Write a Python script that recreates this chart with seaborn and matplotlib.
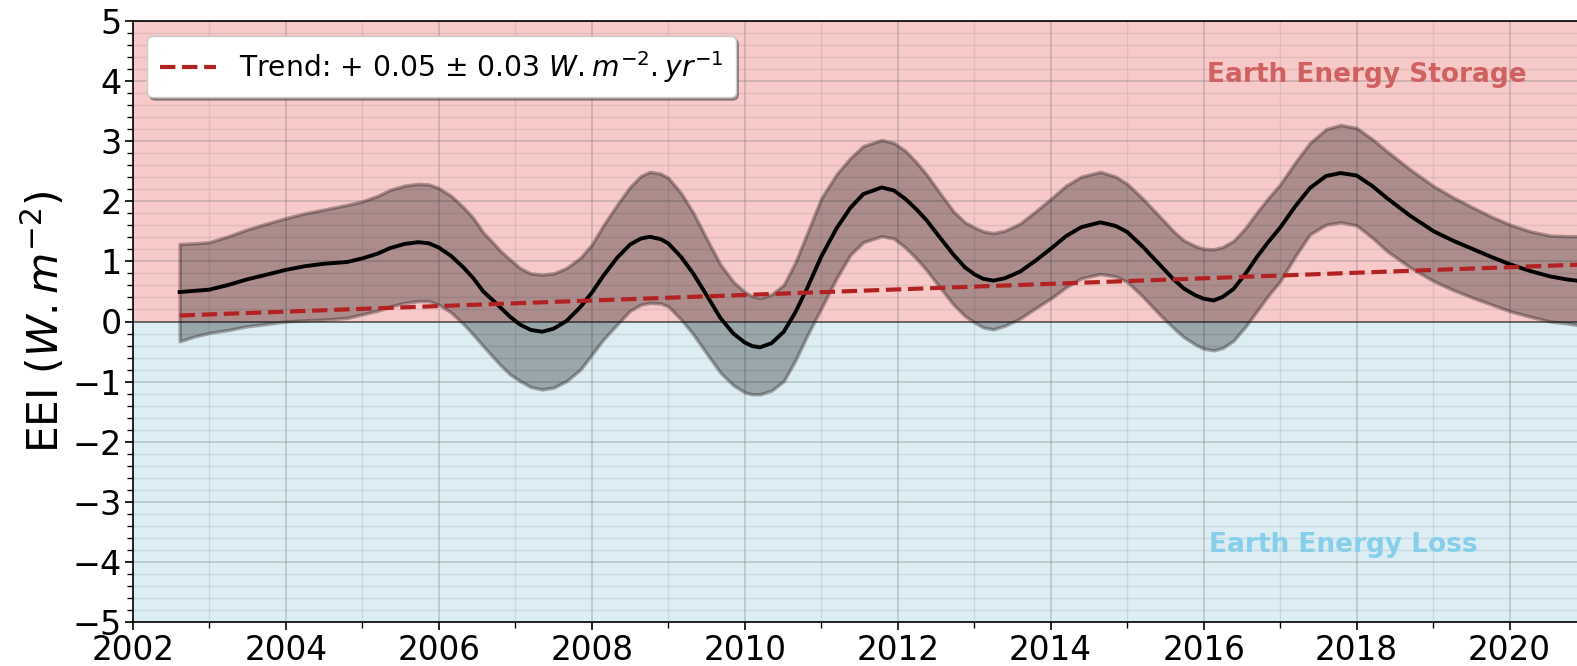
import numpy as np
import pandas as pd
import matplotlib
matplotlib.use("Agg")
import matplotlib.pyplot as plt
from matplotlib.ticker import MultipleLocator
import seaborn as sns

# ---- data ----
years = [2002.61, 2002.8, 2003.0, 2003.25, 2003.49, 2003.75, 2004.0, 2004.25, 2004.49, 2004.8,
         2005.0, 2005.2, 2005.36, 2005.55, 2005.73, 2005.87, 2006.0, 2006.16, 2006.32, 2006.45,
         2006.58, 2006.7, 2006.8, 2006.93, 2007.06, 2007.2, 2007.35, 2007.5, 2007.67, 2007.85,
         2008.0, 2008.15, 2008.33, 2008.5, 2008.64, 2008.76, 2008.9, 2009.0, 2009.17, 2009.33,
         2009.5, 2009.68, 2009.85, 2010.0, 2010.1, 2010.2, 2010.35, 2010.51, 2010.66, 2010.81,
         2011.0, 2011.2, 2011.38, 2011.55, 2011.79, 2011.95, 2012.1, 2012.25, 2012.38, 2012.55,
         2012.73, 2012.88, 2013.01, 2013.12, 2013.25, 2013.4, 2013.6, 2013.8, 2014.02, 2014.2,
         2014.4, 2014.65, 2014.85, 2015.0, 2015.2, 2015.43, 2015.6, 2015.74, 2015.9, 2016.0,
         2016.13, 2016.25, 2016.39, 2016.55, 2016.7, 2016.85, 2017.0, 2017.2, 2017.39, 2017.6,
         2017.79, 2018.0, 2018.2, 2018.4, 2018.7, 2019.01, 2019.27, 2019.53, 2019.77, 2020.01,
         2020.27, 2020.53, 2020.75, 2021.0]
eei = [0.49, 0.51, 0.53, 0.61, 0.70, 0.78, 0.86, 0.92, 0.96, 0.99,
       1.05, 1.13, 1.22, 1.29, 1.32, 1.30, 1.23, 1.09, 0.90, 0.72,
       0.50, 0.36, 0.24, 0.08, -0.05, -0.14, -0.17, -0.12, 0.01, 0.24,
       0.48, 0.76, 1.06, 1.28, 1.38, 1.41, 1.37, 1.30, 1.07, 0.79,
       0.44, 0.06, -0.20, -0.35, -0.41, -0.43, -0.36, -0.17, 0.15, 0.54,
       1.08, 1.55, 1.89, 2.12, 2.23, 2.18, 2.04, 1.86, 1.68, 1.40,
       1.11, 0.90, 0.78, 0.71, 0.68, 0.72, 0.83, 1.01, 1.23, 1.42,
       1.57, 1.65, 1.59, 1.49, 1.25, 0.94, 0.71, 0.55, 0.43, 0.38,
       0.35, 0.41, 0.54, 0.80, 1.08, 1.33, 1.56, 1.92, 2.22, 2.42,
       2.47, 2.43, 2.26, 2.05, 1.76, 1.50, 1.34, 1.20, 1.07, 0.95,
       0.84, 0.75, 0.70, 0.66]
eei_upper = [1.29, 1.30, 1.32, 1.42, 1.53, 1.63, 1.72, 1.80, 1.86, 1.94,
             2.00, 2.09, 2.19, 2.26, 2.29, 2.28, 2.22, 2.09, 1.90, 1.72,
             1.48, 1.32, 1.18, 1.03, 0.89, 0.80, 0.78, 0.80, 0.89, 1.06,
             1.28, 1.60, 1.94, 2.24, 2.42, 2.49, 2.46, 2.39, 2.13, 1.80,
             1.38, 0.95, 0.66, 0.49, 0.42, 0.39, 0.45, 0.61, 0.98, 1.45,
             2.05, 2.45, 2.72, 2.92, 3.02, 2.97, 2.84, 2.64, 2.44, 2.14,
             1.83, 1.65, 1.56, 1.50, 1.47, 1.51, 1.63, 1.83, 2.06, 2.26,
             2.41, 2.49, 2.41, 2.29, 2.05, 1.74, 1.51, 1.35, 1.25, 1.21,
             1.20, 1.24, 1.34, 1.56, 1.82, 2.06, 2.28, 2.65, 2.97, 3.20,
             3.27, 3.22, 3.04, 2.83, 2.53, 2.25, 2.06, 1.89, 1.74, 1.61,
             1.50, 1.43, 1.42, 1.42]
eei_lower = [-0.33, -0.25, -0.19, -0.14, -0.08, -0.04, 0.00, 0.02, 0.03, 0.06,
             0.12, 0.18, 0.25, 0.31, 0.34, 0.34, 0.28, 0.15, -0.04, -0.22,
             -0.41, -0.58, -0.72, -0.88, -0.99, -1.09, -1.13, -1.10, -0.99, -0.80,
             -0.55, -0.30, -0.05, 0.18, 0.28, 0.31, 0.30, 0.25, 0.03, -0.22,
             -0.53, -0.85, -1.06, -1.18, -1.21, -1.21, -1.15, -0.99, -0.65, -0.25,
             0.22, 0.72, 1.11, 1.32, 1.42, 1.38, 1.23, 1.04, 0.85, 0.57,
             0.28, 0.09, -0.02, -0.10, -0.13, -0.07, 0.05, 0.22, 0.40, 0.57,
             0.72, 0.79, 0.75, 0.66, 0.42, 0.11, -0.10, -0.26, -0.39, -0.45,
             -0.48, -0.44, -0.32, -0.08, 0.18, 0.44, 0.67, 1.09, 1.45, 1.61,
             1.65, 1.60, 1.40, 1.17, 0.90, 0.67, 0.52, 0.39, 0.28, 0.17,
             0.08, 0.00, -0.03, -0.08]
trend_years = [2002.61, 2021.0]
trend_values = [0.10, 0.95]

legend_label = r"Trend: + 0.05 $\pm$ 0.03 $W.m^{-2}.yr^{-1}$"
ylabel = r"EEI ($W.m^{-2}$)"
text_storage = "Earth Energy Storage"
text_loss = "Earth Energy Loss"

df = pd.DataFrame({"year": years, "eei": eei})
df_trend = pd.DataFrame({"year": trend_years, "trend": trend_values})

fig = plt.figure(figsize=(15.77, 6.66), dpi=100)
ax = fig.add_axes([133 / 1577, 1 - 622 / 666, (1586 - 133) / 1577, (622 - 21) / 666])

ax.set_xlim(2002, 2021)
ax.set_ylim(-5, 5)

ax.axhspan(0, 5, color="lightcoral", alpha=0.42, lw=0, zorder=0)
ax.axhspan(-5, 0, color="lightblue", alpha=0.42, lw=0, zorder=0)

ax.xaxis.set_major_locator(MultipleLocator(2))
ax.xaxis.set_minor_locator(MultipleLocator(1))
ax.yaxis.set_major_locator(MultipleLocator(1))
ax.yaxis.set_minor_locator(MultipleLocator(0.2))
ax.grid(which="major", color="grey", alpha=0.35, lw=1.3, zorder=1)
ax.grid(which="minor", color="grey", alpha=0.18, lw=1.0, zorder=1)
ax.set_axisbelow(True)

ax.axhline(0, color="black", lw=1.2, alpha=0.55, zorder=2)

ax.fill_between(years, eei_lower, eei_upper, facecolor=(0, 0, 0, 0.3),
                edgecolor=(0.15, 0.1, 0.1, 0.35), lw=2.5, zorder=3)

sns.lineplot(data=df, x="year", y="eei", ax=ax, color="black", lw=2.8,
             sort=False, estimator=None, zorder=5, solid_joinstyle="round")
sns.lineplot(data=df_trend, x="year", y="trend", ax=ax, color="firebrick",
             lw=3, linestyle="--", estimator=None, zorder=6,
             label=legend_label)

ax.text(2018.14, 4.1, text_storage, color="indianred", fontsize=19,
        fontweight="bold", ha="center", va="center", alpha=0.95, zorder=7)
ax.text(2017.82, -3.72, text_loss, color="skyblue", fontsize=19,
        fontweight="bold", ha="center", va="center", zorder=7)

ax.set_xlabel("")
ax.set_ylabel(ylabel, fontsize=30.5, labelpad=3)
ax.tick_params(axis="both", which="major", labelsize=24, length=6, width=1.2, pad=2)
ax.tick_params(axis="x", which="major", labelsize=23.5, pad=3)
ax.tick_params(axis="both", which="minor", length=4, width=1)
for s in ax.spines.values():
    s.set_linewidth(1.2)

leg = ax.legend(loc="upper left", fontsize=20.3, shadow=True, fancybox=True,
                framealpha=1, handlelength=2.0, borderpad=0.45, borderaxespad=0,
                bbox_to_anchor=(0.0096, 0.975))
leg.set_zorder(10)

fig.savefig("out.png", dpi=100)
